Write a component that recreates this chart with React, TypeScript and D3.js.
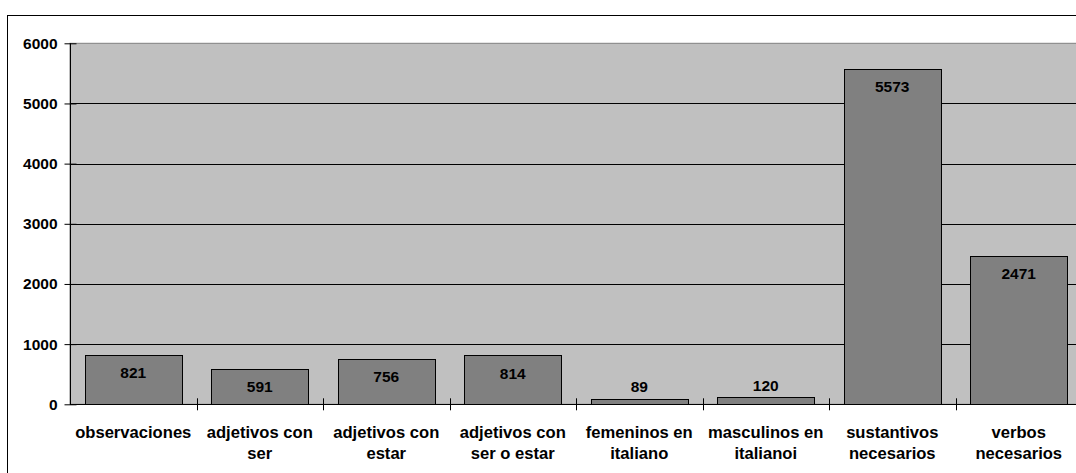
import React, { useEffect, useRef } from 'react';
import * as d3 from 'd3';

const categories = [
  'observaciones',
  'adjetivos con|ser',
  'adjetivos con|estar',
  'adjetivos con|ser o estar',
  'femeninos en|italiano',
  'masculinos en|italianoi',
  'sustantivos|necesarios',
  'verbos|necesarios',
];
const values = [821, 591, 756, 814, 89, 120, 5573, 2471];
const yTicks = [0, 1000, 2000, 3000, 4000, 5000, 6000];

const App = () => {
  const svgRef = useRef<SVGSVGElement>(null);

  useEffect(() => {
    const width = 1076;
    const height = 473;
    const left = 70;
    const right = 1082;
    const top = 43.3;
    const bottom = 404.3;
    const font = '"Liberation Sans", Arial, sans-serif';

    const svg = d3.select(svgRef.current)
      .attr('width', width)
      .attr('height', height)
      .attr('viewBox', [0, 0, width, height]);
    svg.selectAll('*').remove();

    const x = d3.scaleBand<number>()
      .domain(d3.range(categories.length))
      .range([left, right])
      .paddingInner(0.3 / 1.3)
      .paddingOuter(0.15 / 1.3);
    const step = (right - left) / categories.length;

    const y = d3.scaleLinear()
      .domain([0, 6000])
      .range([bottom, top]);

    // outer chart border (cut off at right and bottom)
    svg.append('rect')
      .attr('x', 7.5).attr('y', 15.5)
      .attr('width', 1100).attr('height', 500)
      .attr('fill', 'white').attr('stroke', '#000');

    // plot area
    svg.append('rect')
      .attr('x', left).attr('y', top)
      .attr('width', right - left).attr('height', bottom - top)
      .attr('fill', '#c0c0c0').attr('stroke', '#808080');

    // gridlines
    svg.append('g')
      .selectAll('line')
      .data(yTicks.filter(d => d > 0 && d < 6000))
      .join('line')
      .attr('x1', left).attr('x2', right)
      .attr('y1', d => Math.round(y(d)) + 0.5).attr('y2', d => Math.round(y(d)) + 0.5)
      .attr('stroke', '#000');

    // bars
    svg.append('g')
      .selectAll('rect')
      .data(values)
      .join('rect')
      .attr('x', (d, i) => Math.round(x(i)!) + 0.5)
      .attr('y', d => Math.round(y(d)) + 0.5)
      .attr('width', Math.round(x.bandwidth()))
      .attr('height', d => Math.round(y(0)) - Math.round(y(d)))
      .attr('fill', '#808080')
      .attr('stroke', '#000');

    // value labels
    svg.append('g')
      .attr('font-family', font)
      .attr('font-weight', 'bold')
      .attr('font-size', 15.5)
      .attr('text-anchor', 'middle')
      .attr('fill', '#000')
      .selectAll('text')
      .data(values)
      .join('text')
      .attr('x', (d, i) => x(i)! + x.bandwidth() / 2)
      .attr('y', d => (y(0) - y(d) > 30 ? y(d) + 18 : y(d) - 12))
      .attr('dy', '0.35em')
      .text(d => d);

    // y axis
    svg.append('g')
      .attr('transform', `translate(${left + 0.5},0)`)
      .call(d3.axisLeft(y).tickValues(yTicks).tickSize(6).tickPadding(7).tickFormat(d => String(d)))
      .call(g => g.select('.domain').attr('d', `M0,${top}V${bottom}`).attr('stroke', '#000'))
      .call(g => g.selectAll('.tick line').attr('x2', -6).attr('x1', 6).attr('stroke', '#000'))
      .call(g => g.selectAll('.tick text')
        .attr('font-family', font)
        .attr('font-weight', 'bold')
        .attr('font-size', 15.5)
        .attr('fill', '#000'));

    // x axis line and boundary ticks
    svg.append('line')
      .attr('x1', left).attr('x2', right)
      .attr('y1', Math.round(bottom) + 0.5).attr('y2', Math.round(bottom) + 0.5)
      .attr('stroke', '#000');
    svg.append('g')
      .selectAll('line')
      .data(d3.range(1, categories.length + 1))
      .join('line')
      .attr('x1', i => Math.round(left + i * step) + 0.5)
      .attr('x2', i => Math.round(left + i * step) + 0.5)
      .attr('y1', bottom - 6).attr('y2', bottom + 6)
      .attr('stroke', '#000');

    // category labels
    svg.append('g')
      .attr('font-family', font)
      .attr('font-weight', 'bold')
      .attr('font-size', 16.6)
      .attr('text-anchor', 'middle')
      .attr('fill', '#000')
      .selectAll('text')
      .data(categories)
      .join('text')
      .attr('y', 431.7)
      .each(function (d, i) {
        const cx = x(i)! + x.bandwidth() / 2;
        d3.select(this)
          .selectAll('tspan')
          .data(d.split('|'))
          .join('tspan')
          .attr('x', cx)
          .attr('dy', (t, j) => (j === 0 ? '0.35em' : 21.6))
          .text(t => t);
      });
  }, []);

  return (
    <svg ref={svgRef} style={{ position: 'absolute', left: 0, top: 0, display: 'block' }}></svg>
  );
};

export default App;
